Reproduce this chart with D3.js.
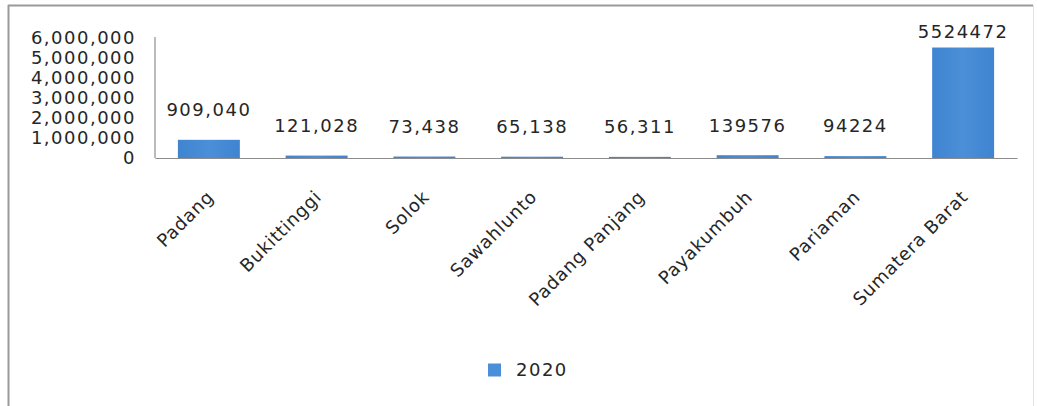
<!DOCTYPE html>
<html>
<head>
<meta charset="utf-8">
<script src="https://cdn.jsdelivr.net/npm/d3@7"></script>
<style>
  html, body { margin: 0; padding: 0; background: #fff; }
  svg { display: block; }
  text { font-family: "DejaVu Sans", sans-serif; fill: #262626; }
</style>
</head>
<body>
<svg id="chart" width="1037" height="406"></svg>
<script>
const categories = ["Padang", "Bukittinggi", "Solok", "Sawahlunto", "Padang Panjang", "Payakumbuh", "Pariaman", "Sumatera Barat"];
const values2020 = [909040, 121028, 73438, 65138, 56311, 139576, 94224, 5524472];
const valueLabels = ["909,040", "121,028", "73,438", "65,138", "56,311", "139576", "94224", "5524472"];
const yTicks = [0, 1000000, 2000000, 3000000, 4000000, 5000000, 6000000];
const seriesName = "2020";

const W = 1037, H = 406;
const svg = d3.select("#chart");

// gradient for bars
const defs = svg.append("defs");
const grad = defs.append("linearGradient").attr("id", "barGrad").attr("x1", "0").attr("x2", "1").attr("y1", "0").attr("y2", "0");
grad.append("stop").attr("offset", "0%").attr("stop-color", "#3f84d0");
grad.append("stop").attr("offset", "50%").attr("stop-color", "#4b8fd8");
grad.append("stop").attr("offset", "100%").attr("stop-color", "#3f84d0");

// border
svg.append("line").attr("x1", 8.5).attr("x2", 8.5).attr("y1", 5).attr("y2", H).attr("stroke", "#9a9a9a").attr("stroke-width", 2);
svg.append("line").attr("x1", 8).attr("x2", 1033).attr("y1", 5.5).attr("y2", 5.5).attr("stroke", "#9a9a9a").attr("stroke-width", 2);
svg.append("line").attr("x1", 1033.5).attr("x2", 1033.5).attr("y1", 5).attr("y2", H).attr("stroke", "#e2e2e2").attr("stroke-width", 1);

const x = d3.scaleBand().domain(categories).range([155, 1017]).paddingInner(0.425).paddingOuter(0.2125);
const y = d3.scaleLinear().domain([0, 6000000]).range([158, 38]);

// bars
svg.append("g").selectAll("rect").data(categories).join("rect")
  .attr("x", d => x(d))
  .attr("width", x.bandwidth())
  .attr("y", (d, i) => y(values2020[i]))
  .attr("height", (d, i) => y(0) - y(values2020[i]))
  .attr("fill", "url(#barGrad)");

// y axis
const yAxis = d3.axisLeft(y).tickValues(yTicks).tickFormat(d3.format(",")).tickSize(0).tickPadding(19);
const gy = svg.append("g").attr("transform", "translate(155,0)").call(yAxis);
gy.select(".domain").attr("stroke", "#8c8c8c").attr("stroke-width", 1.2).attr("d", "M0,37V158");
gy.selectAll("text").style("font-size", "18px").style("letter-spacing", "1.5px").attr("fill", "#262626");

// x axis baseline
const xAxis = d3.axisBottom(x).tickSize(0).tickFormat("");
const gx = svg.append("g").attr("transform", "translate(0,158)").call(xAxis);
gx.select(".domain").attr("stroke", "#8c8c8c").attr("stroke-width", 1.2);

// x labels rotated
svg.append("g").selectAll("text").data(categories).join("text")
  .attr("transform", d => `translate(${x(d) + x.bandwidth() / 2 + 6},198) rotate(-45)`)
  .attr("text-anchor", "end")
  .style("font-size", "18px")
  .style("letter-spacing", "0.8px")
  .text(d => d);

// value labels
svg.append("g").selectAll("text").data(categories).join("text")
  .attr("x", d => x(d) + x.bandwidth() / 2)
  .attr("y", (d, i) => Math.max(y(values2020[i]) - 30, y(6000000) - 6))
  .attr("dy", "0.35em")
  .attr("text-anchor", "middle")
  .style("font-size", "18px")
  .style("letter-spacing", "1.5px")
  .text((d, i) => valueLabels[i]);

// legend
const lg = svg.append("g").attr("transform", "translate(488,370)");
lg.append("rect").attr("x", 0).attr("y", -6.5).attr("width", 13).attr("height", 13).attr("fill", "#4b8fd8");
lg.append("text").attr("x", 28).attr("dy", "0.35em").style("font-size", "18px").style("letter-spacing", "1.5px").text(seriesName);
</script>
</body>
</html>
